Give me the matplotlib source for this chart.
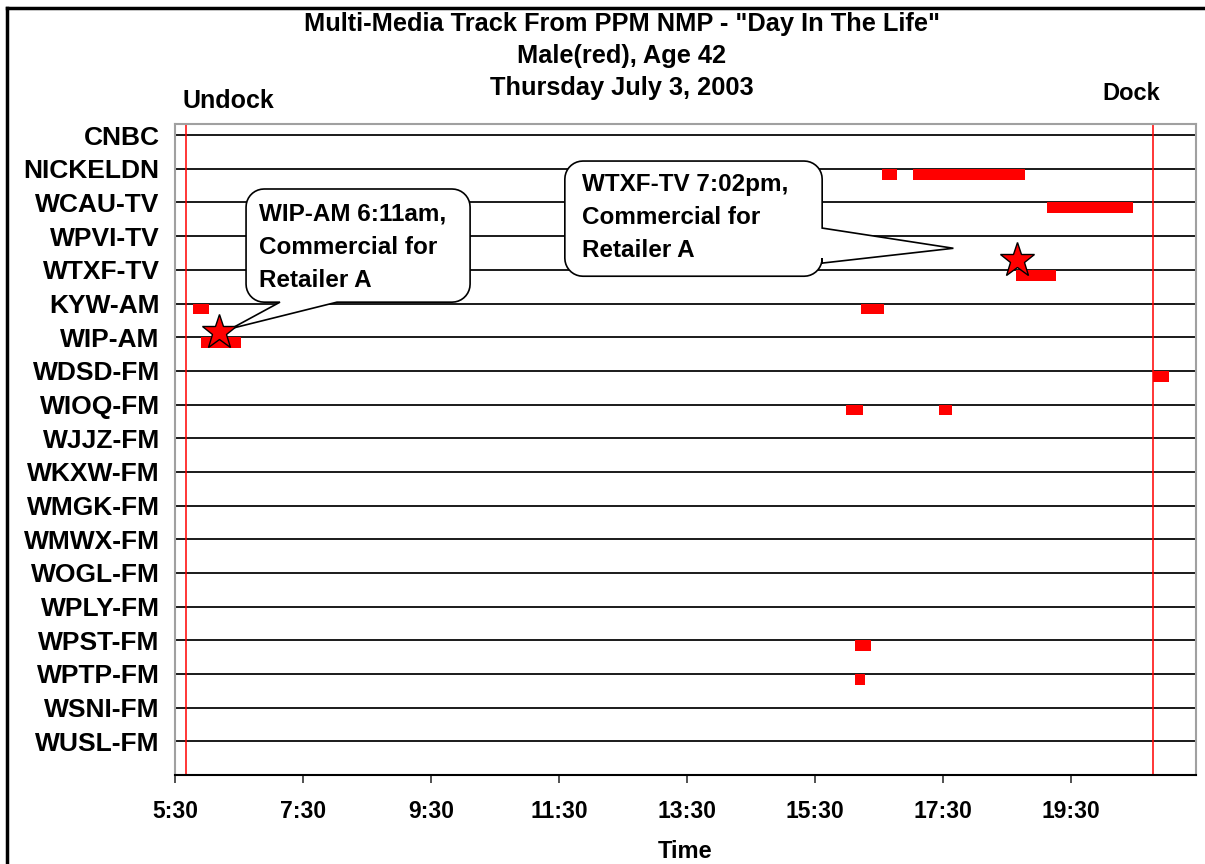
import matplotlib
matplotlib.use('Agg')
import matplotlib.pyplot as plt
from matplotlib.patches import PathPatch
from matplotlib.path import Path
from matplotlib.lines import Line2D
import numpy as np

# ---------------- data ----------------
stations = ['CNBC', 'NICKELDN', 'WCAU-TV', 'WPVI-TV', 'WTXF-TV', 'KYW-AM', 'WIP-AM',
            'WDSD-FM', 'WIOQ-FM', 'WJJZ-FM', 'WKXW-FM', 'WMGK-FM', 'WMWX-FM',
            'WOGL-FM', 'WPLY-FM', 'WPST-FM', 'WPTP-FM', 'WSNI-FM', 'WUSL-FM']

seg_station = ['KYW-AM', 'WIP-AM', 'NICKELDN', 'NICKELDN', 'WCAU-TV', 'WTXF-TV',
               'KYW-AM', 'WDSD-FM', 'WIOQ-FM', 'WIOQ-FM', 'WPST-FM', 'WPTP-FM']
seg_start = ['5:47', '5:54', '16:33', '17:02', '19:07', '18:38',
             '16:13', '20:47', '15:59', '17:26', '16:07', '16:07']
seg_end = ['6:02', '6:32', '16:47', '18:47', '20:28', '19:16',
           '16:35', '21:02', '16:15', '17:38', '16:22', '16:17']

undock_time = '5:40'
dock_time = '20:47'

star_station = ['WIP-AM', 'WTXF-TV']
star_time = ['6:11', '18:39']

x_tick_labels = ['5:30', '7:30', '9:30', '11:30', '13:30', '15:30', '17:30', '19:30']

title_lines = ['Multi-Media Track From PPM NMP - "Day In The Life"',
               'Male(red), Age 42',
               'Thursday July 3, 2003']
callout_texts = ['WIP-AM 6:11am,\nCommercial for\nRetailer A',
                 'WTXF-TV 7:02pm,\nCommercial for\nRetailer A']


def to_h(s):
    h, m = s.split(':')
    return int(h) + int(m) / 60.0


FONT = 'Liberation Sans'
W, H = 1205, 864
fig = plt.figure(figsize=(W / 100, H / 100), dpi=100)
fig.patch.set_facecolor('white')

ax = fig.add_axes([175 / W, 1 - 775 / H, (1196 - 175) / W, (775 - 124) / H])
ax.set_xlim(5.5, 21.45)
ax.set_ylim(19, -0.33)

rows = {s: i for i, s in enumerate(stations)}

# gridlines at each station
ax.hlines(range(len(stations)), 5.5, 21.45, color='#1a1a1a', lw=1.4, zorder=1)

# bars
for st, a, b in zip(seg_station, seg_start, seg_end):
    ax.barh(rows[st], to_h(b) - to_h(a), left=to_h(a), height=0.32, align='edge',
            color='#ff0000', edgecolor='none', zorder=3)

# undock / dock lines
for t in (undock_time, dock_time):
    ax.axvline(to_h(t), color='#ff0000', lw=1.1, zorder=2)

# spines
for side in ('top', 'left', 'right'):
    ax.spines[side].set_color('#a0a0a0')
    ax.spines[side].set_linewidth(1.5)
ax.spines['bottom'].set_color('black')
ax.spines['bottom'].set_linewidth(1.5)

ax.set_yticks(range(len(stations)))
ax.set_yticklabels(stations, fontfamily=FONT, fontweight='bold', fontsize=19)
ax.tick_params(axis='y', length=0, pad=11)
ax.set_xticks([to_h(t) for t in x_tick_labels])
ax.set_xticklabels(x_tick_labels, fontfamily=FONT, fontweight='bold', fontsize=16.5)
ax.tick_params(axis='x', length=6, width=1.2, color='#333333', direction='out', pad=12)


# callouts
def callout(box, tail_side, base, tip, text_xy, text):
    T = ax.transData
    c = T.transform([(box[0], box[2]), (box[1], box[3])])
    X0, X1 = sorted(c[:, 0])
    Y0, Y1 = sorted(c[:, 1])
    r = 18
    tipd = T.transform([tip])[0]
    pts = []

    def arc(cx, cy, a0, a1):
        for a in np.linspace(np.radians(a0), np.radians(a1), 10):
            pts.append((cx + r * np.cos(a), cy + r * np.sin(a)))

    arc(X1 - r, Y1 - r, 90, 0)
    if tail_side == 'right':
        b = T.transform([(box[1], base[0]), (box[1], base[1])])
        bys = sorted(b[:, 1], reverse=True)
        pts.append((X1, bys[0]))
        pts.append(tuple(tipd))
        pts.append((X1, bys[1]))
    arc(X1 - r, Y0 + r, 0, -90)
    if tail_side == 'bottom':
        b = T.transform([(base[0], box[3]), (base[1], box[3])])
        bxs = sorted(b[:, 0], reverse=True)
        pts.append((bxs[0], Y0))
        pts.append(tuple(tipd))
        pts.append((bxs[1], Y0))
    arc(X0 + r, Y0 + r, -90, -180)
    arc(X0 + r, Y1 - r, 180, 90)
    pts.append(pts[0])
    dpts = T.inverted().transform(np.array(pts))
    patch = PathPatch(Path(dpts, closed=True), facecolor='white', edgecolor='black',
                      lw=1.2, zorder=4, clip_on=False)
    ax.add_patch(patch)
    ax.text(text_xy[0], text_xy[1], text, fontfamily=FONT, fontweight='bold',
            fontsize=17.5, ha='left', va='center', linespacing=1.55, zorder=5)


callout((6.61, 10.11, 1.60, 4.96), 'bottom', (8.03, 7.14),
        (to_h(star_time[0]) + 0.2, rows[star_station[0]] - 0.26),
        (6.81, 3.33), callout_texts[0])
callout((11.59, 15.61, 0.77, 4.19), 'right', (2.76, 3.80), (17.66, 3.36),
        (11.86, 2.45), callout_texts[1])

# stars
lifts = [0.16, 0.30]
ax.plot([to_h(t) for t in star_time],
        [rows[s] - l for s, l in zip(star_station, lifts)],
        ls='none', marker='*', ms=26, mfc='#ff0000', mec='black', mew=1.0, zorder=6,
        clip_on=False)

# titles and labels
for txt, y in zip(title_lines, (24, 56, 88)):
    fig.text(622 / W, 1 - y / H, txt, ha='center', va='center', fontfamily=FONT,
             fontweight='bold', fontsize=18.3)
fig.text(183 / W, 1 - 101 / H, 'Undock', ha='left', va='center', fontfamily=FONT,
         fontweight='bold', fontsize=18)
fig.text(1102 / W, 1 - 93 / H, 'Dock', ha='left', va='center', fontfamily=FONT,
         fontweight='bold', fontsize=17)
fig.text(685.5 / W, 1 - 851 / H, 'Time', ha='center', va='center', fontfamily=FONT,
         fontweight='bold', fontsize=17)

# outer frame (left and top)
fig.add_artist(Line2D([7 / W, 7 / W], [0, 1 - 8 / H], transform=fig.transFigure,
                      color='black', lw=2.5))
fig.add_artist(Line2D([7 / W, 1], [1 - 8 / H, 1 - 8 / H], transform=fig.transFigure,
                      color='black', lw=2.5))

fig.savefig('out.png', dpi=100)
